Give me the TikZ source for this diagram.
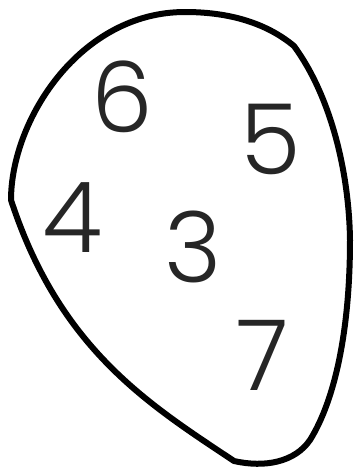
\documentclass[tikz,border=0pt]{standalone}
\usepackage{fontspec}
\newfontfamily\digitfont{Poppins Light}
\usetikzlibrary{positioning}

\begin{document}
\begin{tikzpicture}[
    x=1pt, y=-1pt,
    blob/.style={draw=black, line width=6pt, line join=round},
    num/.style={font=\digitfont\fontsize{98}{98}\selectfont, text=black!85, inner sep=0pt}
]
\useasboundingbox (0,0) rectangle (355,472);

% Outline
\draw[blob] (185,12) .. controls (235,12) and (270,26) .. (294,46)
    .. controls (330,95) and (349,170) .. (350,240)
    .. controls (350,330) and (335,400) .. (310,440)
    .. controls (295,462) and (265,468) .. (234,461)
    .. controls (150,405) and (60,350) .. (11,200)
    .. controls (11,120) and (80,12) .. cycle;

% Numbers
\node[num] (n6) at (122,97) {6};
\node[num] (n5) at (271,139) {5};
\node[num] (n4) at (73,218) {4};
\node[num] (n3) at (193,247) {3};
\node[num] (n7) at (263,355) {7};

\end{tikzpicture}
\end{document}
